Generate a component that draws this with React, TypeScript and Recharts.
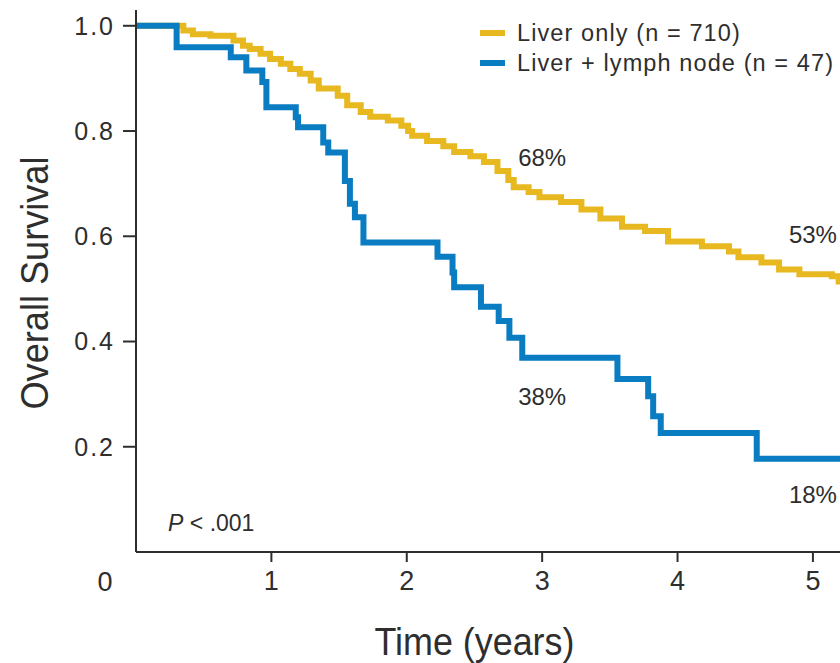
import React from "react";
import { LineChart, Line, XAxis, YAxis, ReferenceDot, Legend } from "recharts";

// Kaplan-Meier steps: [years, survival]
const liverOnly: [number, number][] = [
  [0, 1.0], [0.35, 0.991], [0.42, 0.984], [0.55, 0.981], [0.72, 0.972], [0.79, 0.962],
  [0.84, 0.956], [0.92, 0.947], [0.99, 0.937], [1.07, 0.928], [1.14, 0.918], [1.21, 0.909],
  [1.29, 0.896], [1.35, 0.881], [1.49, 0.867], [1.56, 0.849], [1.66, 0.836], [1.73, 0.827],
  [1.86, 0.82], [1.96, 0.81], [2.01, 0.8], [2.04, 0.791], [2.15, 0.781], [2.27, 0.771],
  [2.35, 0.76], [2.47, 0.752], [2.57, 0.741], [2.67, 0.724], [2.75, 0.707], [2.79, 0.693],
  [2.9, 0.684], [2.98, 0.674], [3.14, 0.665], [3.29, 0.651], [3.43, 0.634], [3.59, 0.618],
  [3.76, 0.61], [3.93, 0.59], [4.18, 0.581], [4.38, 0.571], [4.45, 0.56], [4.62, 0.55],
  [4.75, 0.537], [4.9, 0.528], [5.14, 0.524], [5.19, 0.514], [5.2, 0.514],
];

const liverNode: [number, number][] = [
  [0, 1.0], [0.3, 0.959], [0.7, 0.94], [0.815, 0.915], [0.933, 0.893], [0.963, 0.845],
  [1.18, 0.826], [1.197, 0.807], [1.383, 0.778], [1.42, 0.759], [1.543, 0.705], [1.58, 0.662],
  [1.617, 0.636], [1.68, 0.588], [2.227, 0.561], [2.338, 0.531], [2.35, 0.503], [2.548, 0.466],
  [2.679, 0.439], [2.758, 0.407], [2.853, 0.369], [3.556, 0.329], [3.783, 0.296], [3.82, 0.258],
  [3.876, 0.226], [4.585, 0.177], [5.2, 0.177],
];

const seriesNames = ["Liver only (n = 710)", "Liver + lymph node (n = 47)"];

const xTicks = [1, 2, 3, 4, 5];
const yTicks = [0.2, 0.4, 0.6, 0.8, 1.0];

const pctLabels = [
  { t: 3, s: 0.75, text: "68%" },
  { t: 5, s: 0.604, text: "53%" },
  { t: 3, s: 0.295, text: "38%" },
  { t: 5, s: 0.109, text: "18%" },
];

const YELLOW = "#E8B820";
const BLUE = "#0A7CC1";
const INK = "#2e2e2e";
const SANS = "'Liberation Sans', Arial, sans-serif";

const toRows = (pts: [number, number][]) => pts.map(([t, s]) => ({ t, s }));

function renderLegend({ payload }: any) {
  const items = [...(payload ?? [])].sort(
    (a: any, b: any) => seriesNames.indexOf(a.value) - seriesNames.indexOf(b.value)
  );
  return (
    <div style={{ fontFamily: SANS, fontSize: 23.5, color: INK, lineHeight: "30px" }}>
      {items.map((e: any) => (
        <div key={e.value} style={{ display: "flex", alignItems: "center", whiteSpace: "nowrap" }}>
          <span style={{ display: "inline-block", width: 25, height: 6, background: e.color, marginRight: 12 }} />
          <span style={{ letterSpacing: 1.1 }}>{e.value}</span>
        </div>
      ))}
    </div>
  );
}

export default function App() {
  return (
    <div style={{ position: "absolute", left: 0, top: 0, width: 840, height: 663, overflow: "hidden", background: "#fff" }}>
      <LineChart width={840} height={663} margin={{ top: 10, right: 0, bottom: 0, left: 0 }}>
        <XAxis
          type="number"
          dataKey="t"
          domain={[0, 5.2]}
          ticks={xTicks}
          height={111}
          tickSize={10}
          tickMargin={9}
          axisLine={{ stroke: INK, strokeWidth: 2 }}
          tickLine={{ stroke: INK, strokeWidth: 2 }}
          tick={{ fill: INK, fontSize: 27, fontFamily: SANS }}
          label={(p: any) => {
            const vb = p.viewBox;
            return (
              <text x={vb.x + (vb.width * 2.5) / 5.2} y={vb.y + 103} textAnchor="middle"
                fill={INK} fontSize={38} fontFamily={SANS} textLength={200} lengthAdjust="spacingAndGlyphs">
                Time (years)
              </text>
            );
          }}
        />
        <YAxis
          type="number"
          domain={[0, 1.03]}
          ticks={yTicks}
          width={136}
          tickSize={13}
          tickMargin={8}
          tickFormatter={(v: number) => v.toFixed(1)}
          axisLine={{ stroke: INK, strokeWidth: 2 }}
          tickLine={{ stroke: INK, strokeWidth: 2 }}
          tick={{ fill: INK, fontSize: 25, fontFamily: SANS, letterSpacing: 2 }}
          label={(p: any) => {
            const vb = p.viewBox;
            const cx = vb.x + 35;
            const cy = vb.y + vb.height / 2 + 2;
            return (
              <text x={cx} y={cy} transform={`rotate(-90, ${cx}, ${cy})`} textAnchor="middle"
                dominantBaseline="central" fill={INK} fontSize={38} fontFamily={SANS}
                textLength={253} lengthAdjust="spacingAndGlyphs">
                Overall Survival
              </text>
            );
          }}
        />
        <Legend
          layout="horizontal"
          verticalAlign="middle"
          align="center"
          content={renderLegend}
          wrapperStyle={{ top: 18, left: 480, width: 370 }}
        />
        <Line
          name={seriesNames[0]}
          data={toRows(liverOnly)}
          dataKey="s"
          type="stepAfter"
          stroke={YELLOW}
          strokeWidth={6}
          dot={false}
          activeDot={false}
          isAnimationActive={false}
        />
        <Line
          name={seriesNames[1]}
          data={toRows(liverNode)}
          dataKey="s"
          type="stepAfter"
          stroke={BLUE}
          strokeWidth={6}
          dot={false}
          activeDot={false}
          isAnimationActive={false}
        />
        {pctLabels.map((l) => (
          <ReferenceDot
            key={l.text}
            x={l.t}
            y={l.s}
            r={0}
            shape={(p: any) => (
              <text x={p.cx} y={p.cy} textAnchor="middle" dominantBaseline="central"
                fill={INK} fontSize={24} fontFamily={SANS}>
                {l.text}
              </text>
            )}
          />
        ))}
        <ReferenceDot
          x={0.237}
          y={0.055}
          r={0}
          shape={(p: any) => (
            <text x={p.cx} y={p.cy} dominantBaseline="central" fill={INK} fontSize={23} fontFamily={SANS}>
              <tspan fontStyle="italic">P</tspan>
              <tspan> &lt; .001</tspan>
            </text>
          )}
        />
        <ReferenceDot
          x={0}
          y={0}
          r={0}
          shape={(p: any) => (
            <text x={p.cx - 31} y={p.cy + 30} textAnchor="middle" dominantBaseline="central"
              fill={INK} fontSize={27} fontFamily={SANS}>
              0
            </text>
          )}
        />
      </LineChart>
    </div>
  );
}
